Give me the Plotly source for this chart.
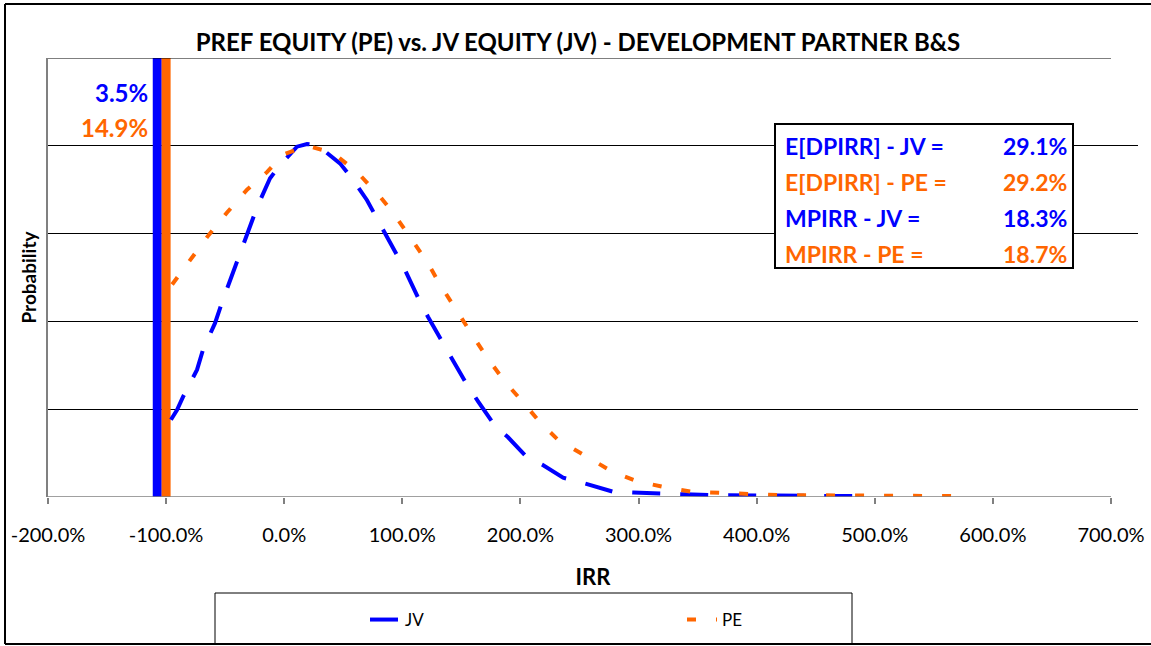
import plotly.graph_objects as go

# ---------------- data ----------------
jv_irr = [-95.9, -90.8, -85.7, -73.8, -68.7, -58.6, -52.6, -43.3, -37.4, -28.9, -23.0, -12.0, -3.6,
          10.8, 19.3, 27.8, 41.3, 47.2, 57.4, 70.1, 79.4, 92.1, 101.4, 113.3, 121.8, 134.5, 142.9,
          155.6, 164.1, 178.5, 189.5, 205.6, 218.3, 236.1, 250.5, 278.4, 295.4, 324.2, 339.4,
          369.1, 387.7, 417.3, 434.3, 464.8, 487.6]
jv_prob = [0.88, 0.99, 1.14, 1.45, 1.68, 1.98, 2.22, 2.56, 2.78, 3.10, 3.30, 3.63, 3.78,
           3.99, 4.02, 4.01, 3.86, 3.80, 3.63, 3.38, 3.15, 2.84, 2.61, 2.27, 2.05, 1.75, 1.55,
           1.26, 1.09, 0.81, 0.68, 0.45, 0.37, 0.22, 0.17, 0.06, 0.05, 0.03, 0.03,
           0.02, 0.02, 0.01, 0.02, 0.01, 0.01]

pe_irr = [-94.9, -79.7, -65.3, -48.4, -31.5, -14.6, -1.0, 19.3, 41.3, 62.5, 81.1, 92.1, 106.5,
          120.9, 131.9, 146.3, 159.0, 171.7, 187.0, 202.2, 216.6, 231.9, 256.4, 277.6, 298.8,
          322.5, 345.3, 369.1, 392.8, 419.9, 445.3, 470.7, 496.1, 521.5, 551.2, 576.6]
pe_prob = [2.42, 2.70, 2.96, 3.24, 3.50, 3.70, 3.90, 4.00, 3.92, 3.69, 3.42, 3.24, 2.95,
           2.68, 2.42, 2.11, 1.85, 1.59, 1.31, 1.08, 0.85, 0.65, 0.45, 0.29, 0.18,
           0.11, 0.06, 0.05, 0.03, 0.02, 0.02, 0.02, 0.01, 0.01, 0.01, 0.01]

# total-loss markers (vertical bars) and their probabilities
loss_x = [-107.5, -100.0]
loss_top = [5, 5]
loss_labels = ["3.5%", "14.9%"]

# summary box
summary_labels = ["E[DPIRR] - JV =", "E[DPIRR] - PE =", "MPIRR - JV =", "MPIRR - PE ="]
summary_values = ["29.1%", "29.2%", "18.3%", "18.7%"]

x_ticks = [-200, -100, 0, 100, 200, 300, 400, 500, 600, 700]
x_ticklabels = [f"{v:.1f}%" for v in x_ticks]
y_grid = [1, 2, 3, 4]
y_max = 5

BLUE = "#0000FF"
ORANGE = "#FF6600"
FONT = "Lato"

fig = go.Figure()

# vertical bars
for xv, top, col in zip(loss_x, loss_top, [BLUE, ORANGE]):
    fig.add_trace(go.Scatter(x=[xv, xv], y=[0, top], mode="lines",
                             line=dict(color=col, width=9), showlegend=False, hoverinfo="skip"))

fig.add_trace(go.Scatter(x=jv_irr, y=jv_prob, mode="lines", name="JV",
                         line=dict(color=BLUE, width=4, dash="28px,20px")))
fig.add_trace(go.Scatter(x=pe_irr, y=pe_prob, mode="lines", name="PE",
                         line=dict(color=ORANGE, width=4, dash="9px,20px")))

# ---- layout helpers ----
L, R, T, B = 48, 1138, 58, 497
W, H = 1151, 646
def px(x):
    return (x - L) / (R - L)
def py(y):
    return (B - y) / (B - T)

shapes = []
# outer chart border (left, top, bottom; right edge is outside the picture)
border = dict(color="#000000", width=2)
shapes.append(dict(type="line", xref="paper", yref="paper", x0=px(5), x1=px(5),
                   y0=py(644), y1=py(4), line=border))
shapes.append(dict(type="line", xref="paper", yref="paper", x0=px(5), x1=px(W),
                   y0=py(4), y1=py(4), line=border))
shapes.append(dict(type="line", xref="paper", yref="paper", x0=px(5), x1=px(W),
                   y0=py(644), y1=py(644), line=border))
# x axis line and top border line (both end at 700%)
shapes.append(dict(type="line", xref="x", yref="y", x0=x_ticks[0], x1=x_ticks[-1], y0=0, y1=0,
                   line=dict(color="#808080", width=1.5)))
shapes.append(dict(type="line", xref="x", yref="y", x0=x_ticks[0], x1=x_ticks[-1], y0=y_max, y1=y_max,
                   line=dict(color="#000000", width=1)))
# summary box
shapes.append(dict(type="rect", xref="paper", yref="paper", x0=px(775), x1=px(1073),
                   y0=py(268), y1=py(124), line=dict(color="#000000", width=2),
                   fillcolor="white", layer="above"))
# legend box
shapes.append(dict(type="rect", xref="paper", yref="paper", x0=px(215), x1=px(852),
                   y0=py(644), y1=py(593), line=dict(color="#000000", width=1),
                   fillcolor="rgba(0,0,0,0)"))

annotations = []
for lab, yy, col in zip(loss_labels, [92, 128], [BLUE, ORANGE]):
    annotations.append(dict(text=f"<b>{lab}</b>", xref="paper", yref="paper", x=px(150), y=py(yy),
                            xanchor="right", yanchor="middle", showarrow=False,
                            font=dict(family=FONT, size=24, color=col)))
rows_y = [146, 182, 218, 254]
row_cols = [BLUE, ORANGE, BLUE, ORANGE]
for lab, val, yy, col in zip(summary_labels, summary_values, rows_y, row_cols):
    annotations.append(dict(text=f"<b>{lab}</b>", xref="paper", yref="paper", x=px(783), y=py(yy),
                            xanchor="left", yanchor="middle", showarrow=False,
                            font=dict(family=FONT, size=23, color=col)))
    annotations.append(dict(text=f"<b>{val}</b>", xref="paper", yref="paper", x=px(1069), y=py(yy),
                            xanchor="right", yanchor="middle", showarrow=False,
                            font=dict(family=FONT, size=23, color=col)))

fig.update_layout(
    width=W, height=H,
    margin=dict(l=L, r=W - R, t=T, b=H - B, pad=0, autoexpand=False),
    paper_bgcolor="white", plot_bgcolor="white",
    font=dict(family=FONT, color="#000000"),
    title=dict(text="<b>PREF EQUITY (PE) vs. JV EQUITY (JV) - DEVELOPMENT PARTNER B&S</b>",
               x=578 / W, xanchor="center", xref="container",
               y=1 - 43 / H, yanchor="middle", yref="container",
               font=dict(family=FONT, size=24, color="#000000")),
    xaxis=dict(range=[-200, 700 + (R - 1111) / 1.181], tickmode="array", tickvals=x_ticks,
               ticktext=x_ticklabels, ticks="outside", ticklen=6, tickcolor="#808080",
               tickwidth=1.5, showgrid=False, zeroline=False, showline=False,
               ticklabelstandoff=14, automargin=False,
               tickfont=dict(family=FONT, size=20, color="#000000"),
               title=dict(text="<b>IRR</b>", standoff=24,
                          font=dict(family=FONT, size=22, color="#000000"))),
    yaxis=dict(range=[0, y_max], tickmode="array", tickvals=y_grid, showticklabels=False,
               showgrid=True, gridcolor="#000000", gridwidth=1, zeroline=False,
               showline=True, linecolor="#808080", linewidth=1.5, ticks="", automargin=False,
               title=dict(text="<b>Probability</b>", standoff=5,
                          font=dict(family=FONT, size=19, color="#000000"))),
    legend=dict(orientation="h", x=px(365), xanchor="left", y=py(620), yanchor="middle",
                bgcolor="rgba(0,0,0,0)", borderwidth=0, entrywidth=272, entrywidthmode="pixels",
                font=dict(family=FONT, size=17, color="#000000")),
    shapes=shapes, annotations=annotations,
)

fig.write_html("out.html", config={"displayModeBar": False},
               post_script="document.body.style.margin='0';document.body.style.overflow='hidden';")
